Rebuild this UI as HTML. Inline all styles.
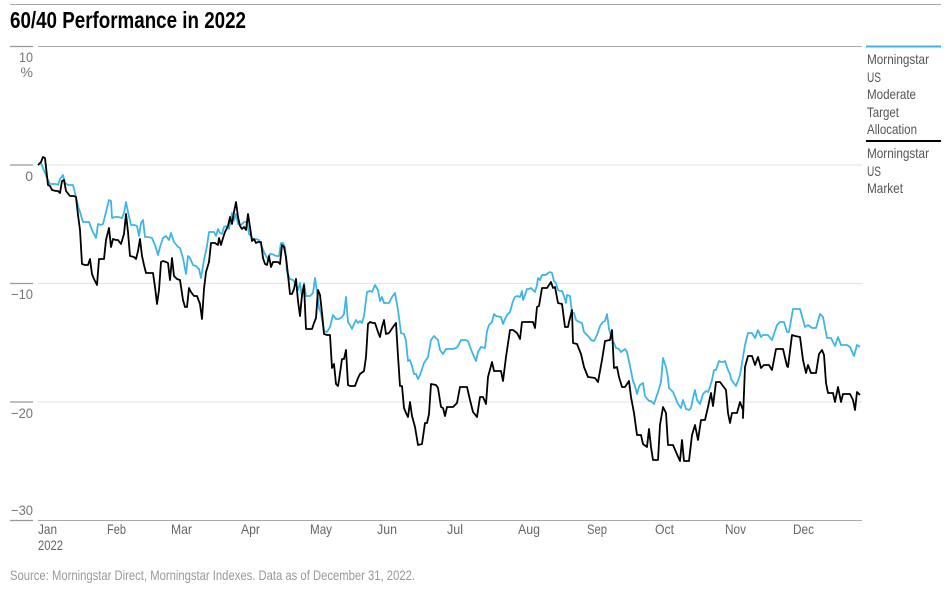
<!DOCTYPE html>
<html><head><meta charset="utf-8"><style>
body{margin:0;background:#fff;}
svg{display:block;font-family:"Liberation Sans Narrow","Liberation Sans",sans-serif;}
</style></head><body>
<svg width="951" height="589" viewBox="0 0 951 589" xmlns="http://www.w3.org/2000/svg">
<line x1="10" y1="4.5" x2="941" y2="4.5" stroke="#aaa" stroke-width="1"/>
<text x="10" y="28" font-size="23" font-weight="bold" fill="#000" textLength="236" lengthAdjust="spacingAndGlyphs">60/40 Performance in 2022</text>
<g stroke="#e6e6e6" stroke-width="1.2">
<line x1="38" y1="165" x2="862" y2="165"/>
<line x1="38" y1="283.5" x2="862" y2="283.5"/>
<line x1="38" y1="402" x2="862" y2="402"/>
</g>
<line x1="38" y1="46.5" x2="862" y2="46.5" stroke="#aaa"/>
<line x1="38" y1="520.5" x2="862" y2="520.5" stroke="#aaa"/>
<g stroke="#999" stroke-width="1.2">
<line x1="10" y1="46.5" x2="33" y2="46.5"/>
<line x1="10" y1="165" x2="33" y2="165"/>
<line x1="10" y1="283.5" x2="33" y2="283.5"/>
<line x1="10" y1="402" x2="33" y2="402"/>
<line x1="10" y1="520.5" x2="33" y2="520.5"/>
</g>
<g font-size="14" fill="#777" text-anchor="end">
<text x="33" y="62" textLength="14" lengthAdjust="spacingAndGlyphs">10</text>
<text x="33" y="77">%</text>
<text x="33" y="181">0</text>
<text x="33" y="299" textLength="22" lengthAdjust="spacingAndGlyphs">−10</text>
<text x="33" y="418" textLength="22" lengthAdjust="spacingAndGlyphs">−20</text>
<text x="33" y="515" textLength="22" lengthAdjust="spacingAndGlyphs">−30</text>
</g>
<g font-size="14" fill="#666" lengthAdjust="spacingAndGlyphs">
<text x="38" y="534" textLength="19" lengthAdjust="spacingAndGlyphs">Jan</text><text x="38" y="550" textLength="25" lengthAdjust="spacingAndGlyphs">2022</text>
<text x="107" y="534" textLength="19" lengthAdjust="spacingAndGlyphs">Feb</text><text x="171" y="534" textLength="21" lengthAdjust="spacingAndGlyphs">Mar</text>
<text x="241" y="534" textLength="19" lengthAdjust="spacingAndGlyphs">Apr</text><text x="310" y="534" textLength="22" lengthAdjust="spacingAndGlyphs">May</text>
<text x="377" y="534" textLength="20" lengthAdjust="spacingAndGlyphs">Jun</text><text x="447" y="534" textLength="16" lengthAdjust="spacingAndGlyphs">Jul</text>
<text x="518" y="534" textLength="22" lengthAdjust="spacingAndGlyphs">Aug</text><text x="587" y="534" textLength="20" lengthAdjust="spacingAndGlyphs">Sep</text>
<text x="655" y="534" textLength="19" lengthAdjust="spacingAndGlyphs">Oct</text><text x="725" y="534" textLength="21" lengthAdjust="spacingAndGlyphs">Nov</text>
<text x="793" y="534" textLength="21" lengthAdjust="spacingAndGlyphs">Dec</text>
</g>
<text x="10" y="580" font-size="14" fill="#999" textLength="405" lengthAdjust="spacingAndGlyphs">Source: Morningstar Direct, Morningstar Indexes. Data as of December 31, 2022.</text>
<line x1="866" y1="46.5" x2="941" y2="46.5" stroke="#3eb5e5" stroke-width="2"/>
<line x1="866" y1="141" x2="941" y2="141" stroke="#000" stroke-width="2"/>
<g font-size="14" fill="#555">
<text x="867" y="64" textLength="62" lengthAdjust="spacingAndGlyphs">Morningstar</text><text x="867" y="82" textLength="14" lengthAdjust="spacingAndGlyphs">US</text><text x="867" y="99" textLength="49" lengthAdjust="spacingAndGlyphs">Moderate</text><text x="867" y="117" textLength="32" lengthAdjust="spacingAndGlyphs">Target</text><text x="867" y="134" textLength="50" lengthAdjust="spacingAndGlyphs">Allocation</text>
<text x="867" y="158" textLength="62" lengthAdjust="spacingAndGlyphs">Morningstar</text><text x="867" y="176" textLength="14" lengthAdjust="spacingAndGlyphs">US</text><text x="867" y="193" textLength="36" lengthAdjust="spacingAndGlyphs">Market</text>
</g>
<polyline fill="none" stroke="#3eb5e5" stroke-width="1.8" stroke-linejoin="round" points="38,165 41,163 45,173 47,178 50,184 53,184 56,184 58,185 60,179 63,175 65,183 68,185 70,185 73,185 75,193 78,206 80,212 83,222 86,222 89,222 92,230 96,238 98,224 101,225 103,224 106,212 109,200 111,201 112,218 115,217 118,217 122,218 124,213 126,202 128,212 131,225 134,225 137,226 139,236 141,223 143,220 145,237 148,237 152,238 155,245 158,255 160,247 163,238 166,236 169,240 171,233 174,242 178,247 180,248 183,258 186,274 188,256 190,258 193,265 196,266 199,269 201,278 204,260 207,246 209,232 212,232 214,232 216,236 218,229 220,233 222,234 224,227 226,226 229,229 232,213 234,220 236,214 238,224 241,225 244,222 247,222 249,234 251,236 253,240 256,239 259,240 262,247 264,252 266,256 268,259 270,254 272,254 276,256 279,256 281,243 283,243 285,247 287,272 290,279 293,280 296,284 298,290 300,283 302,297 304,283 306,296 308,296 310,296 313,293 315,278 317,292 319,308 321,313 324,331 327,332 330,327 333,315 336,319 339,319 342,317 344,314 346,297 348,322 350,325 352,329 354,324 356,320 358,323 360,321 362,323 364,316 367,292 370,291 372,292 375,285 378,290 380,301 382,297 384,303 386,303 389,303 392,297 395,293 398,310 401,333 404,334 406,341 408,361 410,360 412,366 414,374 416,374 418,379 420,375 424,363 428,357 431,340 434,336 438,340 440,350 443,354 446,349 449,349 453,349 456,348 458,346 461,340 465,340 468,341 472,352 476,361 478,352 481,347 485,348 487,331 489,325 492,322 494,314 496,316 501,317 503,324 505,319 507,315 510,312 513,301 515,297 517,296 520,297 522,291 523,300 525,295 527,289 529,289 531,288 535,292 537,285 538,278 540,280 542,275 546,275 548,273 550,272 552,273 554,281 556,283 558,290 560,291 562,291 564,296 566,303 567,295 570,296 572,313 574,313 576,320 579,322 582,323 584,332 586,334 589,337 591,340 594,341 597,335 600,326 603,322 605,321 607,314 609,329 612,339 614,343 616,348 619,349 621,352 625,349 627,352 630,366 633,381 635,386 637,394 639,387 640,385 643,383 645,396 649,401 651,401 654,404 658,392 661,382 663,358 666,367 668,378 669,388 673,392 676,399 678,404 681,408 683,400 686,409 689,410 691,408 693,398 695,390 697,400 700,404 703,394 706,391 708,392 710,387 712,380 714,370 716,370 719,361 721,362 723,362 725,361 728,370 730,374 731,379 733,382 736,386 740,375 745,345 748,333 752,333 755,338 758,330 761,337 763,335 768,335 772,340 777,325 780,322 784,322 787,332 789,332 793,309 797,309 800,309 805,327 808,325 812,328 816,328 820,314 823,317 827,338 831,338 835,346 838,337 841,345 847,345 850,347 854,356 857,345 860,347"/>
<polyline fill="none" stroke="#000" stroke-width="1.8" stroke-linejoin="round" points="38,165 41,162 43,157 45,158 46,167 48,185 50,186 52,190 56,191 58,191 60,193 62,181 64,180 66,191 70,196 74,196 76,197 78,215 80,230 82,264 85,265 88,265 90,259 92,274 94,279 97,285 99,259 101,259 104,259 106,240 109,228 111,247 113,239 116,240 118,240 121,244 124,234 126,214 128,232 130,256 134,257 136,259 138,251 140,239 142,256 144,265 146,273 150,273 153,273 155,287 157,304 159,290 161,262 163,261 166,262 168,263 170,280 172,258 174,276 177,279 180,280 183,300 185,307 187,307 189,288 191,292 194,296 197,296 200,304 202,319 204,289 206,272 209,262 211,243 213,243 215,243 218,245 219,238 221,245 223,238 225,232 228,226 230,217 232,224 234,212 236,202 238,217 240,226 242,229 244,227 246,230 248,214 250,227 252,241 254,239 256,243 258,242 261,242 263,258 265,264 267,265 269,256 271,267 273,262 275,262 278,262 280,264 282,245 284,247 286,257 288,275 290,294 292,294 294,289 296,279 298,301 300,316 302,295 304,285 306,329 308,329 312,329 314,323 316,318 318,290 320,295 322,313 324,334 327,335 330,335 332,368 334,364 336,384 338,386 339,380 342,359 344,359 346,350 348,385 350,386 355,386 358,378 360,374 364,371 366,357 368,324 370,322 373,323 375,323 378,332 380,337 382,327 384,320 386,334 389,333 393,327 396,323 398,356 400,386 402,386 404,408 406,413 408,417 410,402 412,416 415,427 418,445 422,444 425,423 427,423 429,414 431,384 436,385 438,388 441,407 443,408 445,416 447,407 453,407 457,403 460,387 467,387 470,400 473,412 477,417 480,397 483,397 486,404 488,377 492,362 494,371 501,371 503,381 506,357 510,330 513,330 517,333 520,339 522,322 533,322 535,328 537,307 539,306 542,288 547,288 551,282 553,288 555,287 558,303 562,304 565,327 568,327 569,322 572,310 573,343 577,344 581,354 584,367 588,377 595,378 598,382 602,360 605,341 610,340 612,330 614,368 617,367 619,377 622,387 625,387 629,381 631,397 634,413 637,435 641,435 643,444 647,447 649,429 651,447 653,460 658,460 660,425 663,407 666,413 668,445 673,445 676,452 680,461 682,440 684,461 689,461 692,435 695,425 698,440 701,420 705,420 708,407 711,393 713,406 716,382 720,382 726,390 728,413 730,423 732,413 737,413 740,402 743,410 743,418 745,367 748,356 752,356 755,365 758,357 761,368 764,365 769,365 772,370 776,349 783,349 787,366 788,367 792,335 795,336 800,337 803,360 806,373 808,365 811,373 816,373 819,354 822,350 824,355 826,383 828,393 833,393 835,402 838,387 841,402 843,394 850,394 853,400 855,410 857,392 860,395"/>
</svg>
</body></html>
